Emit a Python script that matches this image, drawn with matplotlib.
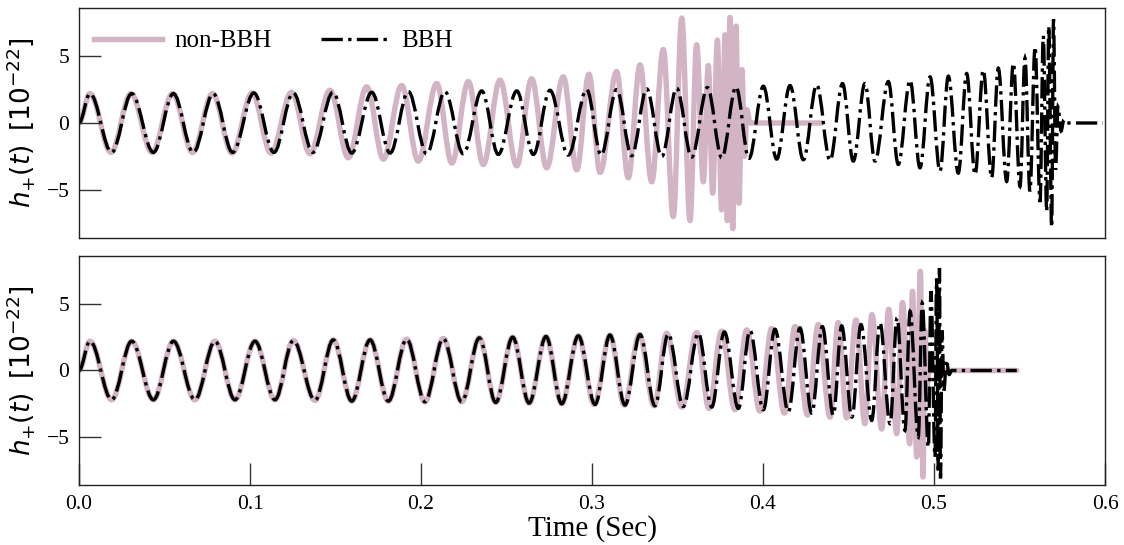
import matplotlib
matplotlib.use('Agg')
import matplotlib.pyplot as plt
from matplotlib.path import Path
from matplotlib.patches import PathPatch
from matplotlib.lines import Line2D

plt.rcParams['font.family'] = 'serif'
plt.rcParams['font.serif'] = ['Liberation Serif', 'DejaVu Serif']
plt.rcParams['mathtext.fontset'] = 'dejavusans'

# waveform extrema: (time [s], h_+ [1e-22])
# top panel, BBH
bbh_top_t = [0.0, 0.0064, 0.0191, 0.0308, 0.0435, 0.0552, 0.0668, 0.0785, 0.0898, 0.1023, 0.1140, 0.1253, 0.1368,
             0.1485, 0.1595, 0.1712, 0.1819, 0.1926, 0.2033, 0.2140, 0.2247, 0.2355, 0.2452, 0.2560, 0.2657,
             0.2754, 0.2861, 0.2969, 0.3053, 0.3144, 0.3232, 0.3320, 0.3408, 0.3495, 0.3583, 0.3675, 0.3759,
             0.3842, 0.3918, 0.4002, 0.4080, 0.4158, 0.4236, 0.4314, 0.4392, 0.4465, 0.4528, 0.4596, 0.4655,
             0.4733, 0.4791, 0.4860, 0.4918, 0.4977, 0.5035, 0.5084, 0.5142, 0.5191, 0.5240, 0.5288, 0.5337,
             0.5376, 0.5425, 0.5464, 0.5503, 0.5532, 0.5561, 0.5591, 0.5620, 0.5639, 0.5659, 0.5671, 0.5688,
             0.5699, 0.5711, 0.5725, 0.5743, 0.5760, 0.5778, 0.5988]
bbh_top_h = [0.0, 2.2, -2.2, 2.2, -2.2, 2.2, -2.2, 2.2, -2.2, 2.25, -2.2, 2.25, -2.2,
             2.3, -2.25, 2.3, -2.25, 2.35, -2.3, 2.35, -2.3, 2.4, -2.35, 2.4, -2.35,
             2.45, -2.4, 2.5, -2.4, 2.5, -2.45, 2.55, -2.5, 2.6, -2.55, 2.65, -2.6,
             2.7, -2.65, 2.75, -2.7, 2.8, -2.75, 2.85, -2.8, 2.95, -2.85, 2.95, -2.85,
             3.1, -3.1, 3.2, -3.35, 3.45, -3.6, 3.5, -3.75, 3.7, -3.86, 3.96, -4.1,
             4.1, -4.37, 4.47, -4.75, 4.85, -5.1, 5.7, -5.9, 6.5, -6.6, 7.25, -7.8,
             7.75, -3.5, 1.2, -0.6, 0.25, 0.0, 0.0]

# top panel, non-BBH
non_top_t = [0.0, 0.0064, 0.0187, 0.0304, 0.0427, 0.0547, 0.0664, 0.0781, 0.0895, 0.1012, 0.1123, 0.1243, 0.1351,
             0.1468, 0.1575, 0.1682, 0.1780, 0.1887, 0.1984, 0.2092, 0.2180, 0.2277, 0.2364, 0.2462, 0.2560,
             0.2647, 0.2735, 0.2832, 0.2911, 0.2982, 0.3047, 0.3144, 0.3212, 0.3281, 0.3349, 0.3417, 0.3475,
             0.3525, 0.3573, 0.3612, 0.3651, 0.3680, 0.3706, 0.3733, 0.3758, 0.3778, 0.3791, 0.3807, 0.3823,
             0.3842, 0.3860, 0.3877, 0.3892, 0.3906, 0.3924, 0.4343]
non_top_h = [0.0, 2.2, -2.2, 2.2, -2.2, 2.2, -2.2, 2.2, -2.25, 2.25, -2.25, 2.3, -2.3,
             2.45, -2.6, 2.7, -2.7, 2.8, -2.85, 2.95, -3.0, 3.1, -3.1, 3.2, -3.2,
             3.3, -3.35, 3.45, -3.5, 3.65, -3.7, 3.85, -4.1, 4.35, -4.4, 5.5, -7.0,
             7.85, -7.3, 5.85, -4.4, 4.3, -5.25, 6.2, -6.5, 6.6, -7.3, 7.9, -7.9,
             7.25, -6.0, 4.0, -2.5, 1.0, 0.0, 0.0]

# bottom panel, BBH
bbh_bot_t = [0.0, 0.0064, 0.0191, 0.0308, 0.0435, 0.0552, 0.0678, 0.0795, 0.0912, 0.1029, 0.1146, 0.1253, 0.1380,
             0.1487, 0.1595, 0.1702, 0.1809, 0.1916, 0.2023, 0.2130, 0.2238, 0.2341, 0.2437, 0.2536, 0.2632,
             0.2731, 0.2823, 0.2920, 0.3018, 0.3105, 0.3193, 0.3281, 0.3368, 0.3446, 0.3534, 0.3622, 0.3700,
             0.3774, 0.3856, 0.3924, 0.4002, 0.4070, 0.4148, 0.4216, 0.4285, 0.4347, 0.4411, 0.4460, 0.4520,
             0.4573, 0.4636, 0.4684, 0.4743, 0.4784, 0.4830, 0.4860, 0.4908, 0.4931, 0.4967, 0.4982, 0.5006,
             0.5015, 0.5025, 0.5032, 0.5038, 0.5047, 0.5058, 0.5073, 0.5088, 0.5105, 0.5484]
bbh_bot_h = [0.0, 2.2, -2.2, 2.2, -2.2, 2.2, -2.2, 2.2, -2.2, 2.2, -2.2, 2.25, -2.25,
             2.3, -2.3, 2.3, -2.3, 2.35, -2.35, 2.4, -2.35, 2.45, -2.4, 2.5, -2.45,
             2.55, -2.5, 2.6, -2.55, 2.66, -2.6, 2.7, -2.65, 2.75, -2.7, 2.8, -2.75,
             2.9, -2.85, 3.0, -2.95, 3.1, -3.1, 3.2, -3.2, 3.3, -3.35, 3.35, -3.5,
             3.45, -3.75, 3.6, -4.0, 3.95, -4.5, 4.45, -5.0, 5.07, -5.75, 5.95, -6.5,
             6.9, -7.5, 7.7, -8.1, 3.0, -1.5, 0.8, -0.3, 0.0, 0.0]

# bottom panel, non-BBH
non_bot_t = [0.0, 0.0064, 0.0191, 0.0308, 0.0435, 0.0552, 0.0678, 0.0795, 0.0912, 0.1029, 0.1146, 0.1253, 0.1380,
             0.1487, 0.1595, 0.1702, 0.1809, 0.1916, 0.2023, 0.2130, 0.2238, 0.2341, 0.2437, 0.2536, 0.2632,
             0.2731, 0.2823, 0.2920, 0.3013, 0.3105, 0.3189, 0.3277, 0.3363, 0.3437, 0.3525, 0.3612, 0.3684,
             0.3758, 0.3836, 0.3905, 0.3982, 0.4051, 0.4125, 0.4187, 0.4261, 0.4323, 0.4392, 0.4440, 0.4489,
             0.4544, 0.4596, 0.4637, 0.4694, 0.4735, 0.4782, 0.4816, 0.4858, 0.4874, 0.4899, 0.4920, 0.4936,
             0.4947, 0.4959, 0.4971, 0.5484]
non_bot_h = [0.0, 2.2, -2.2, 2.2, -2.2, 2.2, -2.2, 2.2, -2.2, 2.2, -2.2, 2.25, -2.25,
             2.3, -2.3, 2.3, -2.3, 2.35, -2.35, 2.4, -2.35, 2.45, -2.4, 2.5, -2.45,
             2.55, -2.5, 2.6, -2.55, 2.66, -2.6, 2.7, -2.65, 2.8, -2.75, 2.85, -2.85,
             2.95, -2.95, 3.05, -3.05, 3.15, -3.2, 3.3, -3.35, 3.45, -3.5, 3.6, -3.56,
             3.8, -4.0, 4.2, -4.4, 4.6, -4.75, 5.1, -5.5, 5.95, -6.5, 7.45, -8.0,
             3.0, -1.2, 0.0, 0.0]

labels = ['non-BBH', 'BBH']
pink = '#d3b4c5'


def wave(ax, t, h, **kw):
    # smooth curve through the extrema (flat tangent at each one)
    verts = [(t[0], h[0])]
    codes = [Path.MOVETO]
    for i in range(len(t) - 1):
        dt = t[i + 1] - t[i]
        verts += [(t[i] + 0.36 * dt, h[i]), (t[i + 1] - 0.36 * dt, h[i + 1]), (t[i + 1], h[i + 1])]
        codes += [Path.CURVE4] * 3
    ax.add_patch(PathPatch(Path(verts, codes), fill=False, **kw))


fig = plt.figure(figsize=(11.24, 5.45), dpi=100)
ax1 = fig.add_axes([0.0703, 0.5633, 0.9128, 0.422])
ax2 = fig.add_axes([0.0703, 0.1101, 0.9128, 0.4202])

for ax, (nt, nh, bt, bh) in zip([ax1, ax2], [(non_top_t, non_top_h, bbh_top_t, bbh_top_h),
                                             (non_bot_t, non_bot_h, bbh_bot_t, bbh_bot_h)]):
    wave(ax, nt, nh, edgecolor=pink, lw=3.9, capstyle='round', joinstyle='round')
    wave(ax, bt, bh, edgecolor='black', lw=2.4, linestyle='-.')
    ax.set_xlim(0, 0.6)
    ax.set_ylim(-8.6, 8.6)
    ax.set_yticks([-5, 0, 5])
    ax.tick_params(direction='in', length=16, width=1, labelsize=15.5, pad=7, color='#333333')
    ax.set_ylabel(r'$h_{+}(t)$  $[10^{-22}]$', fontsize=19, labelpad=7)
    for s in ax.spines.values():
        s.set_linewidth(1.0)
        s.set_color('#222222')

ax1.set_xticks([])
ax2.set_xticks([0.0, 0.1, 0.2, 0.3, 0.4, 0.5, 0.6])
ax2.tick_params(axis='x', pad=7)
ax2.set_xlabel('Time (Sec)', fontsize=21, labelpad=1)

handles = [Line2D([], [], color=pink, lw=3.9),
           Line2D([], [], color='black', lw=2.4, linestyle='-.')]
ax1.legend(handles, labels, loc='upper left', ncol=2, frameon=False, fontsize=18,
           handlelength=2.7, handletextpad=0.5, columnspacing=2.0,
           borderaxespad=0.2, bbox_to_anchor=(0.0, 0.97))

fig.savefig('out.png', dpi=100)
